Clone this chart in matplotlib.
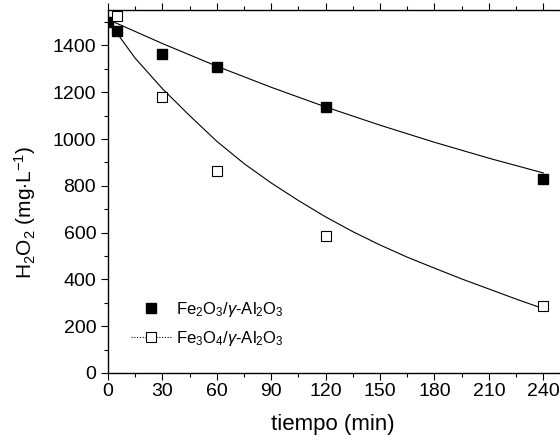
import matplotlib
matplotlib.use("Agg")
import matplotlib.pyplot as plt
from matplotlib.ticker import MultipleLocator

plt.rcParams['font.family'] = ['Liberation Sans', 'DejaVu Sans']
plt.rcParams['mathtext.fontset'] = 'custom'
plt.rcParams['mathtext.rm'] = 'Liberation Sans'
plt.rcParams['mathtext.it'] = 'Liberation Sans:italic'

# measured points
t_data = [0, 5, 30, 60, 120, 240]
fe2o3 = [1500, 1460, 1365, 1307, 1135, 829]
t_open = [5, 30, 60, 120, 240]
fe3o4 = [1524, 1180, 862, 584, 286]

# fitted curves
t_fit1 = [0, 30, 60, 90, 120, 150, 180, 210, 240]
fit_fe2o3 = [1511, 1408, 1311, 1221, 1137, 1059, 986, 918, 855]
t_fit2 = [0, 15, 30, 45, 60, 75, 90, 105, 120, 135, 150, 165, 180, 195, 210, 225, 240]
fit_fe3o4 = [1505, 1345, 1215, 1100, 990, 895, 812, 737, 667, 604, 547, 495, 448,
             402, 359, 316, 275]

lab1 = r"Fe$_2$O$_3$/$\mathit{\gamma}$-Al$_2$O$_3$"
lab2 = r"Fe$_3$O$_4$/$\mathit{\gamma}$-Al$_2$O$_3$"

fig = plt.figure(figsize=(5.6, 4.41), dpi=100)
ax = fig.add_axes([0.1929, 0.1542, 0.8071, 0.8224])

ax.plot(t_fit1, fit_fe2o3, color="black", lw=0.8)
ax.plot(t_fit2, fit_fe3o4, color="black", lw=0.8)
h1, = ax.plot(t_data, fe2o3, "s", color="black", ms=7, mec="black", ls="none", label=lab1)
ax.plot(t_open, fe3o4, "s", mfc="white", mec="black", mew=0.8, ms=7, ls="none")
h2, = ax.plot([], [], marker="s", mfc="white", mec="black", mew=0.8, ms=7,
              color="black", ls=(0, (1, 1.5)), lw=0.8, label=lab2)

ax.set_xlim(0, 249.2)
ax.set_ylim(0, 1550)
ax.spines["right"].set_visible(False)
ax.xaxis.set_major_locator(MultipleLocator(30))
ax.xaxis.set_minor_locator(MultipleLocator(15))
ax.yaxis.set_major_locator(MultipleLocator(200))
ax.yaxis.set_minor_locator(MultipleLocator(100))
ax.tick_params(which="both", direction="out", top=True, right=False, width=0.8,
               labelsize=14)
ax.tick_params(which="major", length=5)
ax.tick_params(axis="x", which="major", pad=2)
ax.tick_params(which="minor", length=3)
for s in ax.spines.values():
    s.set_linewidth(1.0)

ax.set_xlabel("tiempo (min)", fontsize=16, va="center")
ax.xaxis.set_label_coords(0.498, -0.143)
ax.set_ylabel(r"H$_2$O$_2$ (mg$\cdot$L$^{-1}$)", fontsize=15, va="center")
ax.yaxis.set_label_coords(-0.184, 0.444)

ax.legend(handles=[h1, h2], loc="lower left", bbox_to_anchor=(0.035, 0.05),
          frameon=False, fontsize=12, handlelength=2.4, handletextpad=0.3,
          labelspacing=0.6, borderaxespad=0)

fig.savefig("out.png", dpi=100)
